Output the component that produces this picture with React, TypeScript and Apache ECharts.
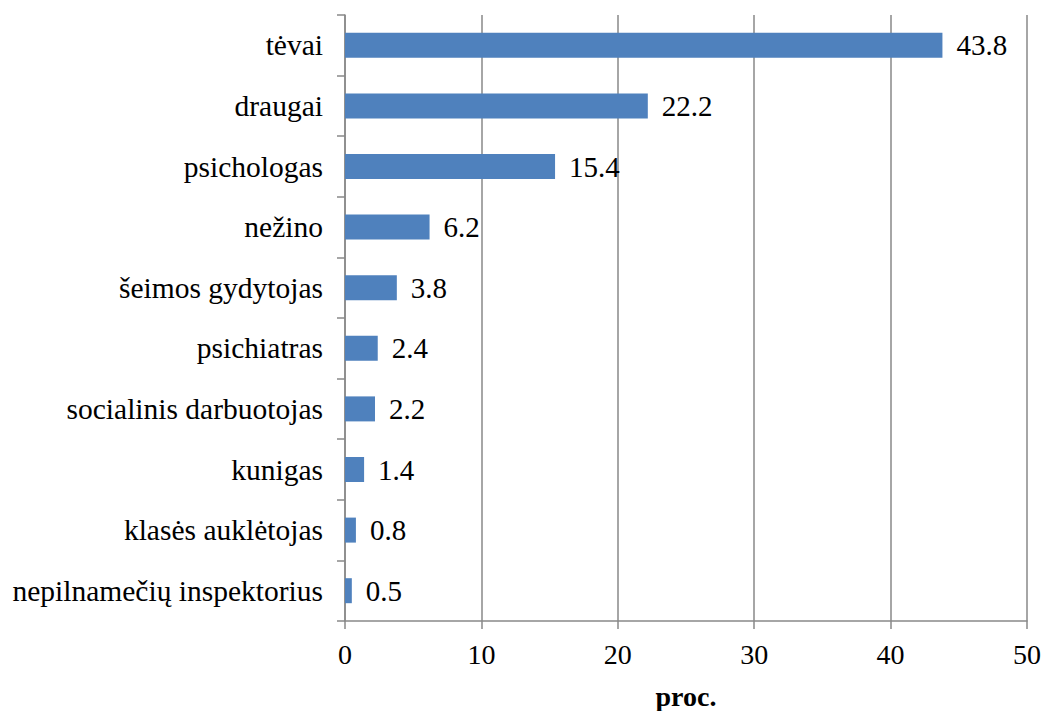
import React, { useEffect, useRef } from "react";
import * as echarts from "echarts";

const categories = [
  "tėvai",
  "draugai",
  "psichologas",
  "nežino",
  "šeimos gydytojas",
  "psichiatras",
  "socialinis darbuotojas",
  "kunigas",
  "klasės auklėtojas",
  "nepilnamečių inspektorius",
];
const values = [43.8, 22.2, 15.4, 6.2, 3.8, 2.4, 2.2, 1.4, 0.8, 0.5];
const axisName = "proc.";

const FONT = "Liberation Serif";

export default function App() {
  const ref = useRef<HTMLDivElement>(null);
  useEffect(() => {
    if (!ref.current) return;
    const chart = echarts.init(ref.current, null, { renderer: "svg" });
    chart.setOption({
      animation: false,
      backgroundColor: "#ffffff",
      textStyle: { fontFamily: FONT },
      grid: {
        left: 345,
        right: 16,
        top: 15,
        bottom: 90,
        containLabel: false,
        outerBoundsMode: "none",
      },
      xAxis: {
        type: "value",
        min: 0,
        max: 50,
        interval: 10,
        name: axisName,
        nameLocation: "middle",
        nameGap: 61,
        nameTextStyle: { fontFamily: FONT, fontSize: 28, fontWeight: "bold", color: "#000" },
        axisLine: { show: true, lineStyle: { color: "#898989", width: 1.5 } },
        axisTick: { show: true, length: 8, lineStyle: { color: "#898989", width: 1.5 } },
        splitLine: { show: true, lineStyle: { color: "#898989", width: 1.5 } },
        axisLabel: { fontFamily: FONT, fontSize: 28, color: "#000", margin: 19 },
      },
      yAxis: {
        type: "category",
        data: categories,
        inverse: true,
        axisLine: { show: true, lineStyle: { color: "#898989", width: 1.5 } },
        axisTick: { show: true, length: 8, lineStyle: { color: "#898989", width: 1.5 } },
        axisLabel: { fontFamily: FONT, fontSize: 29.5, color: "#000", margin: 22 },
      },
      series: [
        {
          type: "bar",
          data: values,
          barWidth: 25,
          itemStyle: { color: "#4F81BD" },
          label: {
            show: true,
            position: "right",
            distance: 14,
            fontFamily: FONT,
            fontSize: 29,
            color: "#000",
          },
        },
      ],
    });
    return () => chart.dispose();
  }, []);
  return (
    <div
      ref={ref}
      style={{ position: "absolute", left: 0, top: 0, width: 1043, height: 711 }}
    />
  );
}
